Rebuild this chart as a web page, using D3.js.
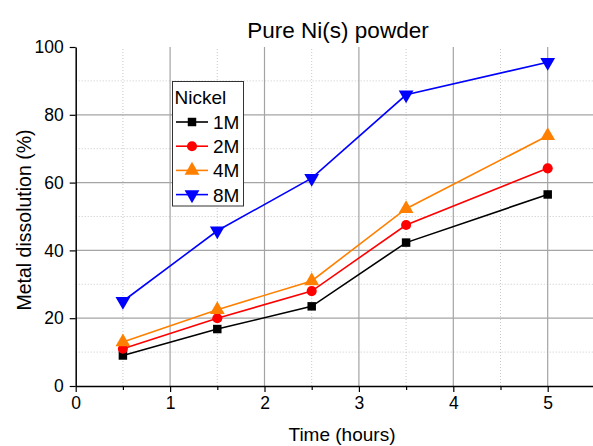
<!DOCTYPE html>
<html>
<head>
<meta charset="utf-8">
<script src="https://cdn.jsdelivr.net/npm/d3@7"></script>
<style>
  body { margin: 0; background: #fff; }
  text { font-family: "Liberation Sans", Arial, sans-serif; }
</style>
</head>
<body>
<div id="chart"></div>
<script>
// data
const times = [0.5, 1.5, 2.5, 3.5, 5];
const seriesNames = ['1M', '2M', '4M', '8M'];
const values1M = [9, 16.8, 23.5, 42.3, 56.5];
const values2M = [11, 20, 28, 47.5, 64.2];
const values4M = [13, 22.5, 31, 52.3, 73.8];
const values8M = [25, 45.8, 61.3, 85.9, 95.5];
const xTicks = [0, 1, 2, 3, 4, 5];
const yTicks = [0, 20, 40, 60, 80, 100];

const colors = ['#000000', '#ff0000', '#ff8000', '#0000ff'];
const symbols = [d3.symbolSquare, d3.symbolCircle, d3.symbolTriangle, d3.symbolTriangle];
const symSize = [72, 80, 95, 95];
const symRot = [0, 0, 0, 180];

const series = seriesNames.map((name, i) => ({
  name,
  values: [values1M, values2M, values4M, values8M][i].map((v, j) => ({ t: times[j], v }))
}));

const width = 593, height = 446;
const svg = d3.select('#chart').append('svg')
  .attr('width', width).attr('height', height);

const x = d3.scaleLinear().domain([0, 5.55]).range([75.7, 75.7 + 5.55 * 94.4]);
const y = d3.scaleLinear().domain([0, 100]).range([386, 47]);

const g = svg.append('g');

// minor grid (dotted)
const xMinor = d3.range(0.5, 5.6, 1);
const yMinor = d3.range(10, 100, 20);
g.selectAll('.xminor').data(xMinor).enter().append('line')
  .attr('x1', d => x(d)).attr('x2', d => x(d))
  .attr('y1', y(0)).attr('y2', y(100))
  .attr('stroke', '#c8c8c8').attr('stroke-dasharray', '1,2');
g.selectAll('.yminor').data(yMinor).enter().append('line')
  .attr('x1', x(0)).attr('x2', width)
  .attr('y1', d => y(d)).attr('y2', d => y(d))
  .attr('stroke', '#c8c8c8').attr('stroke-dasharray', '1,2');

// major grid
g.selectAll('.xmajor').data(xTicks.slice(1)).enter().append('line')
  .attr('x1', d => x(d)).attr('x2', d => x(d))
  .attr('y1', y(0)).attr('y2', y(100))
  .attr('stroke', '#a4a4a4').attr('stroke-width', 1.2);
g.selectAll('.ymajor').data(yTicks.slice(1, -1)).enter().append('line')
  .attr('x1', x(0)).attr('x2', width)
  .attr('y1', d => y(d)).attr('y2', d => y(d))
  .attr('stroke', '#a4a4a4').attr('stroke-width', 1.2);

// axes
const xAxis = g.append('g')
  .attr('transform', `translate(0,${y(0)})`)
  .call(d3.axisBottom(x).tickValues(xTicks).tickFormat(d3.format('d')).tickSize(6).tickSizeOuter(0).tickPadding(5));
const xAxisMinor = g.append('g')
  .attr('transform', `translate(0,${y(0)})`)
  .call(d3.axisBottom(x).tickValues(xMinor).tickFormat('').tickSize(4).tickSizeOuter(0));
xAxisMinor.select('.domain').remove();

const yAxis = g.append('g')
  .attr('transform', `translate(${x(0)},0)`)
  .call(d3.axisLeft(y).tickValues(yTicks).tickSize(6).tickSizeOuter(0).tickPadding(6));

[xAxis, yAxis, xAxisMinor].forEach(a => {
  a.selectAll('.domain').attr('stroke', '#000').attr('stroke-width', 1.5);
  a.selectAll('.tick line').attr('stroke', '#000').attr('stroke-width', 1.2);
  a.selectAll('.tick text').attr('fill', '#000')
    .style('font-family', '"Liberation Sans", Arial, sans-serif')
    .style('font-size', '17.5px');
});

// lines
const line = d3.line().x(d => x(d.t)).y(d => y(d.v));
series.forEach((s, i) => {
  g.append('path').datum(s.values)
    .attr('d', line).attr('fill', 'none')
    .attr('stroke', colors[i]).attr('stroke-width', 1.6);
  g.selectAll('.m' + i).data(s.values).enter().append('path')
    .attr('d', d3.symbol().type(symbols[i]).size(symSize[i]))
    .attr('transform', d => `translate(${x(d.t)},${y(d.v)}) rotate(${symRot[i]})`)
    .attr('fill', colors[i]);
});

// titles
svg.append('text').attr('x', 338).attr('y', 38).attr('text-anchor', 'middle')
  .style('font-size', '22.5px').text('Pure Ni(s) powder');
svg.append('text').attr('x', 342).attr('y', 441).attr('text-anchor', 'middle')
  .style('font-size', '19px').text('Time (hours)');
svg.append('text').attr('transform', 'translate(31,220) rotate(-90)')
  .attr('text-anchor', 'middle').style('font-size', '19.5px').text('Metal dissolution (%)');

// legend
const leg = svg.append('g');
leg.append('rect').attr('x', 172.5).attr('y', 81.5).attr('width', 71).attr('height', 124.5)
  .attr('fill', '#fff').attr('stroke', '#333').attr('stroke-width', 1);
leg.append('text').attr('x', 174.5).attr('y', 104).style('font-size', '19px').text('Nickel');
series.forEach((s, i) => {
  const ly = 122 + i * 24.2;
  leg.append('line').attr('x1', 176).attr('x2', 208).attr('y1', ly).attr('y2', ly)
    .attr('stroke', colors[i]).attr('stroke-width', 1.6);
  leg.append('path')
    .attr('d', d3.symbol().type(symbols[i]).size(symSize[i]))
    .attr('transform', `translate(192,${ly}) rotate(${symRot[i]})`)
    .attr('fill', colors[i]);
  leg.append('text').attr('x', 213).attr('y', ly + 7).style('font-size', '19px').text(s.name);
});
</script>
</body>
</html>
